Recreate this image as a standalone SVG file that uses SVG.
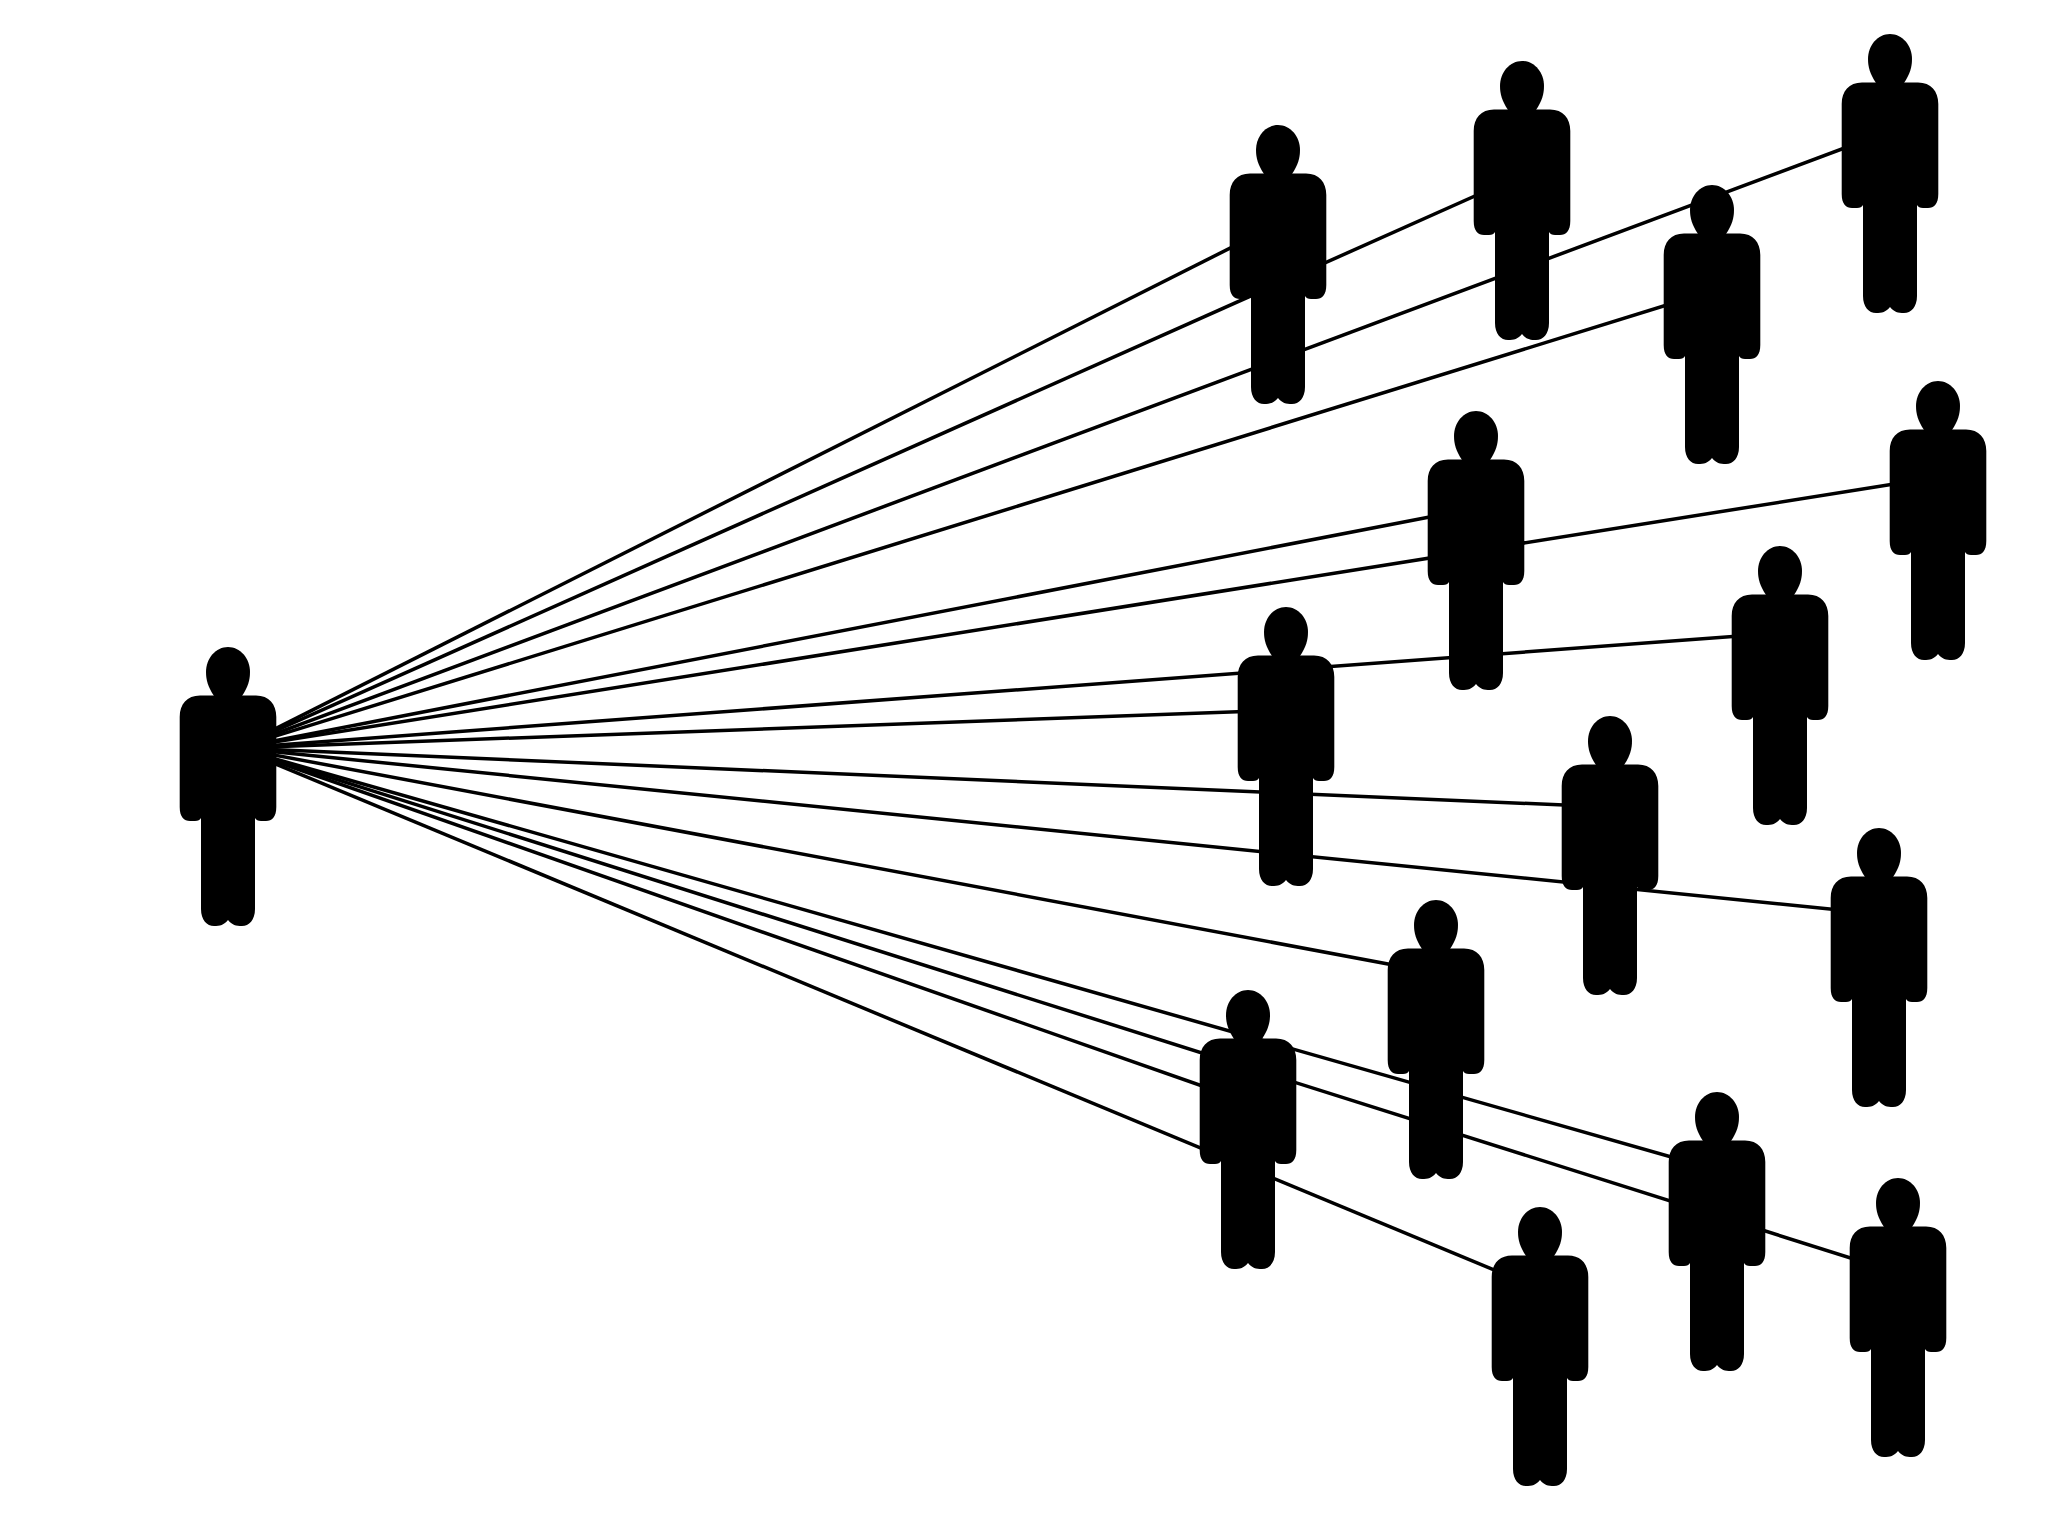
<svg xmlns="http://www.w3.org/2000/svg" xmlns:xlink="http://www.w3.org/1999/xlink" width="2048" height="1536" viewBox="0 0 2048 1536">
<style>
.c{stroke:#000;stroke-width:3.5;fill:none}
.p{fill:#000}
</style>
<defs>
<g id="person" class="p">
<path d="M-14,49 C-20,40 -22,33 -22,25 C-22,11 -12,0 0,0 C12,0 22,11 22,25 C22,33 20,40 14,49 Z"/>
<path d="M-28,48.5 H28 C41,48.5 48.3,57 48.3,70 V160 C48.3,170 44,174 38,174 H33 C30,174 28,173 27,171 V262 C27,273 21,279 14,279 C8,279 4,278 0,273 C-4,278 -8,279 -14,279 C-21,279 -27,273 -27,262 V171 C-28,173 -30,174 -33,174 H-38 C-44,174 -48.3,170 -48.3,160 V70 C-48.3,57 -41,48.5 -28,48.5 Z"/>
</g>
</defs>
<rect width="2048" height="1536" fill="#fff"/>
<g id="connectors" class="c">
<line x1="237" y1="748" x2="1278" y2="224"/>
<line x1="237" y1="748" x2="1522" y2="175"/>
<line x1="237" y1="748" x2="1890" y2="131"/>
<line x1="237" y1="748" x2="1712" y2="291"/>
<line x1="237" y1="748" x2="1938" y2="477"/>
<line x1="237" y1="748" x2="1476" y2="508"/>
<line x1="237" y1="748" x2="1780" y2="633"/>
<line x1="237" y1="748" x2="1286" y2="710"/>
<line x1="237" y1="748" x2="1610" y2="807"/>
<line x1="237" y1="748" x2="1879" y2="914"/>
<line x1="237" y1="748" x2="1436" y2="973"/>
<line x1="237" y1="748" x2="1248" y2="1102"/>
<line x1="237" y1="748" x2="1717" y2="1170"/>
<line x1="237" y1="748" x2="1898" y2="1273"/>
<line x1="237" y1="748" x2="1540" y2="1289"/>
</g>
<g id="source"><use href="#person" xlink:href="#person" transform="translate(228,647)"/></g>
<g id="n1"><use href="#person" xlink:href="#person" transform="translate(1278,125)"/></g>
<g id="n2"><use href="#person" xlink:href="#person" transform="translate(1522,61)"/></g>
<g id="n3"><use href="#person" xlink:href="#person" transform="translate(1890,34)"/></g>
<g id="n4"><use href="#person" xlink:href="#person" transform="translate(1712,185)"/></g>
<g id="n5"><use href="#person" xlink:href="#person" transform="translate(1938,381)"/></g>
<g id="n6"><use href="#person" xlink:href="#person" transform="translate(1476,411)"/></g>
<g id="n7"><use href="#person" xlink:href="#person" transform="translate(1780,546)"/></g>
<g id="n8"><use href="#person" xlink:href="#person" transform="translate(1286,607)"/></g>
<g id="n9"><use href="#person" xlink:href="#person" transform="translate(1610,716)"/></g>
<g id="n10"><use href="#person" xlink:href="#person" transform="translate(1879,828)"/></g>
<g id="n11"><use href="#person" xlink:href="#person" transform="translate(1436,900)"/></g>
<g id="n12"><use href="#person" xlink:href="#person" transform="translate(1248,990)"/></g>
<g id="n13"><use href="#person" xlink:href="#person" transform="translate(1717,1092)"/></g>
<g id="n14"><use href="#person" xlink:href="#person" transform="translate(1898,1178)"/></g>
<g id="n15"><use href="#person" xlink:href="#person" transform="translate(1540,1207)"/></g>
</svg>
